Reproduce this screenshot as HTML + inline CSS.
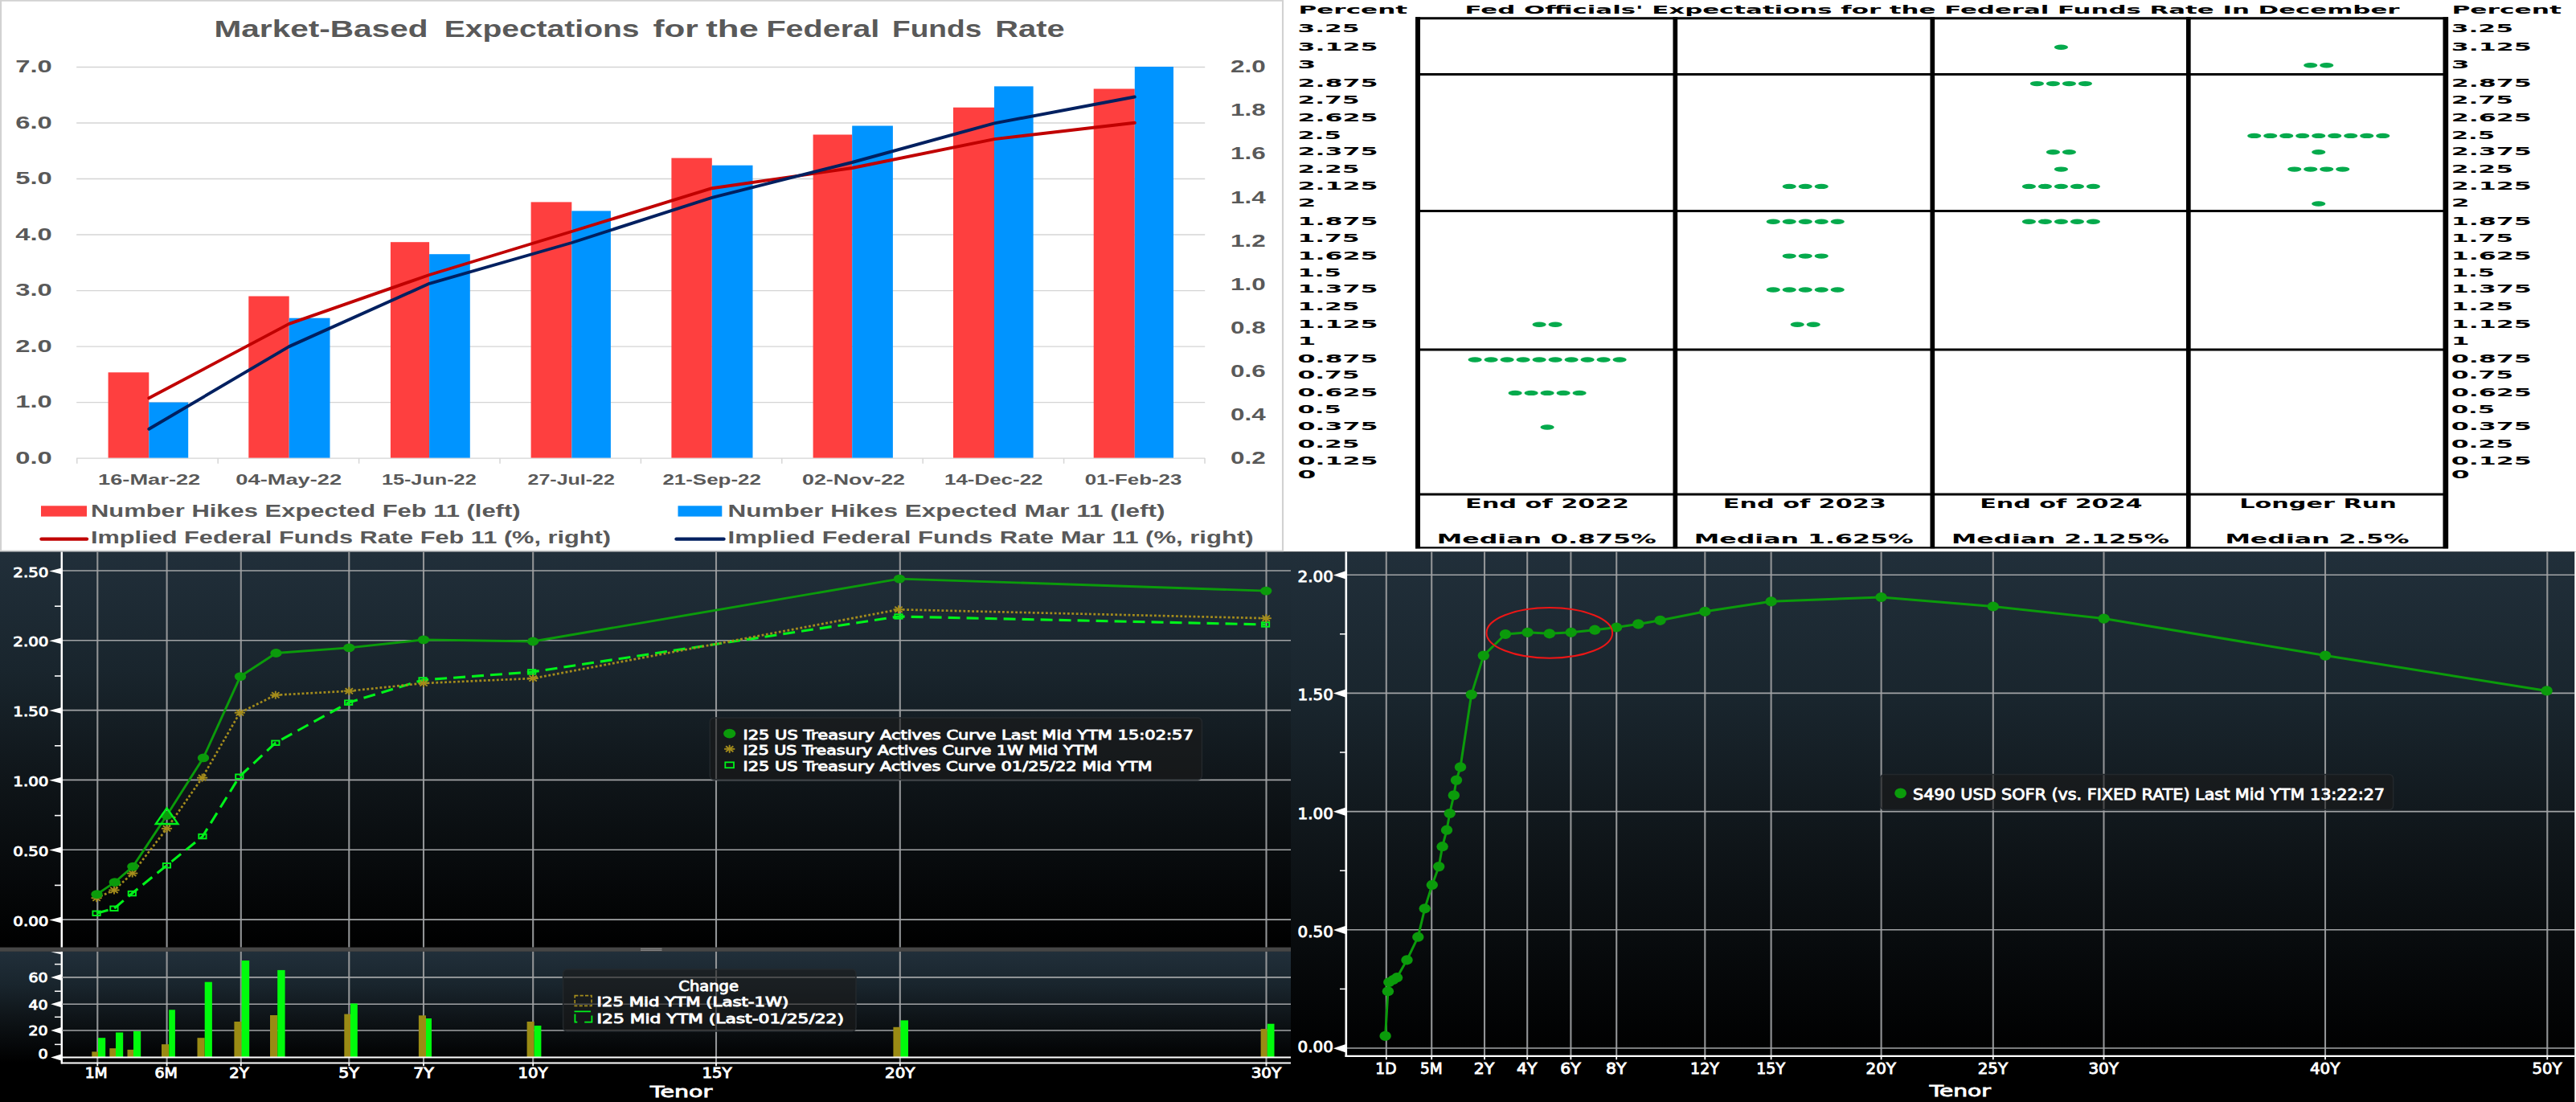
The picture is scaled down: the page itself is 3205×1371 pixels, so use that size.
<!DOCTYPE html>
<html lang="en"><head><meta charset="utf-8"><title>Rates dashboard</title>
<style>html,body{margin:0;padding:0;background:#000;overflow:hidden}svg{display:block}.lib{font-family:"Liberation Sans", sans-serif}.djv{font-family:"DejaVu Sans", "Liberation Sans", sans-serif}.b{font-weight:bold}text{white-space:pre}</style></head><body>
<svg width="3205" height="1371" viewBox="0 0 3205 1371" role="img" aria-label="Rates dashboard: market-based fed funds expectations, Fed dot plot, Treasury curve, SOFR curve">
<defs><linearGradient id="gC1" x1="0" y1="0" x2="0" y2="1"><stop offset="0" stop-color="#212f3a"/><stop offset="0.3" stop-color="#19252d"/><stop offset="0.58" stop-color="#0f1519"/><stop offset="1" stop-color="#000"/></linearGradient><linearGradient id="gC2" x1="0" y1="0" x2="0" y2="1"><stop offset="0" stop-color="#212f3a"/><stop offset="0.3" stop-color="#19252d"/><stop offset="0.58" stop-color="#0f1519"/><stop offset="1" stop-color="#000"/></linearGradient><linearGradient id="gD" x1="0" y1="0" x2="0" y2="1"><stop offset="0" stop-color="#212f3a"/><stop offset="0.3" stop-color="#19252d"/><stop offset="0.58" stop-color="#0f1519"/><stop offset="1" stop-color="#000"/></linearGradient></defs>
<rect x="0.0" y="0.0" width="3205.0" height="1371.0" fill="#000" />
<rect x="0.0" y="0.0" width="1598.0" height="686.5" fill="#fff" />
<path d="M1.05 0V686 M0 0.7H1597 M1596 0V686 M0 685.6H1597" fill="none" stroke="#d2d2d2" stroke-width="2.1"/>
<text class="lib b" x="266.5" y="46.3" font-size="29" fill="#595959" textLength="266.0" lengthAdjust="spacingAndGlyphs">Market-Based</text>
<text class="lib b" x="552.7" y="46.3" font-size="29" fill="#595959" textLength="242.8" lengthAdjust="spacingAndGlyphs">Expectations</text>
<text class="lib b" x="812.5" y="46.3" font-size="29" fill="#595959" textLength="56.3" lengthAdjust="spacingAndGlyphs">for</text>
<text class="lib b" x="878.3" y="46.3" font-size="29" fill="#595959" textLength="65.6" lengthAdjust="spacingAndGlyphs">the</text>
<text class="lib b" x="953.4" y="46.3" font-size="29" fill="#595959" textLength="140.8" lengthAdjust="spacingAndGlyphs">Federal</text>
<text class="lib b" x="1110.0" y="46.3" font-size="29" fill="#595959" textLength="111.3" lengthAdjust="spacingAndGlyphs">Funds</text>
<text class="lib b" x="1238.3" y="46.3" font-size="29" fill="#595959" textLength="86.3" lengthAdjust="spacingAndGlyphs">Rate</text>
<line x1="95.2" y1="83.5" x2="1499.2" y2="83.5" stroke="#d4d4d4" stroke-width="1.3" />
<text class="lib b" x="19.2" y="90.3" font-size="21.8" fill="#595959" textLength="45.6" lengthAdjust="spacingAndGlyphs">7.0</text>
<line x1="95.2" y1="153.0" x2="1499.2" y2="153.0" stroke="#d4d4d4" stroke-width="1.3" />
<text class="lib b" x="19.2" y="159.8" font-size="21.8" fill="#595959" textLength="45.6" lengthAdjust="spacingAndGlyphs">6.0</text>
<line x1="95.2" y1="222.5" x2="1499.2" y2="222.5" stroke="#d4d4d4" stroke-width="1.3" />
<text class="lib b" x="19.2" y="229.3" font-size="21.8" fill="#595959" textLength="45.6" lengthAdjust="spacingAndGlyphs">5.0</text>
<line x1="95.2" y1="292.0" x2="1499.2" y2="292.0" stroke="#d4d4d4" stroke-width="1.3" />
<text class="lib b" x="19.2" y="298.8" font-size="21.8" fill="#595959" textLength="45.6" lengthAdjust="spacingAndGlyphs">4.0</text>
<line x1="95.2" y1="361.6" x2="1499.2" y2="361.6" stroke="#d4d4d4" stroke-width="1.3" />
<text class="lib b" x="19.2" y="368.4" font-size="21.8" fill="#595959" textLength="45.6" lengthAdjust="spacingAndGlyphs">3.0</text>
<line x1="95.2" y1="431.1" x2="1499.2" y2="431.1" stroke="#d4d4d4" stroke-width="1.3" />
<text class="lib b" x="19.2" y="437.9" font-size="21.8" fill="#595959" textLength="45.6" lengthAdjust="spacingAndGlyphs">2.0</text>
<line x1="95.2" y1="500.6" x2="1499.2" y2="500.6" stroke="#d4d4d4" stroke-width="1.3" />
<text class="lib b" x="19.2" y="507.4" font-size="21.8" fill="#595959" textLength="45.6" lengthAdjust="spacingAndGlyphs">1.0</text>
<line x1="95.2" y1="570.1" x2="1499.2" y2="570.1" stroke="#d4d4d4" stroke-width="1.3" />
<text class="lib b" x="19.2" y="576.9" font-size="21.8" fill="#595959" textLength="45.6" lengthAdjust="spacingAndGlyphs">0.0</text>
<text class="lib b" x="1531.0" y="90.3" font-size="21.8" fill="#595959" textLength="43.6" lengthAdjust="spacingAndGlyphs">2.0</text>
<text class="lib b" x="1531.0" y="144.4" font-size="21.8" fill="#595959" textLength="43.6" lengthAdjust="spacingAndGlyphs">1.8</text>
<text class="lib b" x="1531.0" y="198.4" font-size="21.8" fill="#595959" textLength="43.6" lengthAdjust="spacingAndGlyphs">1.6</text>
<text class="lib b" x="1531.0" y="252.5" font-size="21.8" fill="#595959" textLength="43.6" lengthAdjust="spacingAndGlyphs">1.4</text>
<text class="lib b" x="1531.0" y="306.6" font-size="21.8" fill="#595959" textLength="43.6" lengthAdjust="spacingAndGlyphs">1.2</text>
<text class="lib b" x="1531.0" y="360.6" font-size="21.8" fill="#595959" textLength="43.6" lengthAdjust="spacingAndGlyphs">1.0</text>
<text class="lib b" x="1531.0" y="414.7" font-size="21.8" fill="#595959" textLength="43.6" lengthAdjust="spacingAndGlyphs">0.8</text>
<text class="lib b" x="1531.0" y="468.8" font-size="21.8" fill="#595959" textLength="43.6" lengthAdjust="spacingAndGlyphs">0.6</text>
<text class="lib b" x="1531.0" y="522.8" font-size="21.8" fill="#595959" textLength="43.6" lengthAdjust="spacingAndGlyphs">0.4</text>
<text class="lib b" x="1531.0" y="576.9" font-size="21.8" fill="#595959" textLength="43.6" lengthAdjust="spacingAndGlyphs">0.2</text>
<line x1="95.8" y1="570.1" x2="95.8" y2="576.7" stroke="#d6d6d6" stroke-width="1.5" />
<line x1="271.2" y1="570.1" x2="271.2" y2="576.7" stroke="#d6d6d6" stroke-width="1.5" />
<line x1="446.6" y1="570.1" x2="446.6" y2="576.7" stroke="#d6d6d6" stroke-width="1.5" />
<line x1="622.0" y1="570.1" x2="622.0" y2="576.7" stroke="#d6d6d6" stroke-width="1.5" />
<line x1="797.4" y1="570.1" x2="797.4" y2="576.7" stroke="#d6d6d6" stroke-width="1.5" />
<line x1="972.8" y1="570.1" x2="972.8" y2="576.7" stroke="#d6d6d6" stroke-width="1.5" />
<line x1="1148.2" y1="570.1" x2="1148.2" y2="576.7" stroke="#d6d6d6" stroke-width="1.5" />
<line x1="1323.6" y1="570.1" x2="1323.6" y2="576.7" stroke="#d6d6d6" stroke-width="1.5" />
<line x1="1499.0" y1="570.1" x2="1499.0" y2="576.7" stroke="#d6d6d6" stroke-width="1.5" />
<rect x="134.6" y="463.3" width="50.7" height="106.3" fill="#fe3f3f" />
<rect x="185.3" y="500.6" width="48.9" height="69.0" fill="#0094ff" />
<rect x="309.3" y="368.5" width="50.4" height="201.1" fill="#fe3f3f" />
<rect x="359.7" y="395.7" width="50.8" height="173.9" fill="#0094ff" />
<rect x="485.9" y="301.2" width="48.2" height="268.4" fill="#fe3f3f" />
<rect x="534.1" y="316.2" width="50.7" height="253.4" fill="#0094ff" />
<rect x="660.6" y="251.4" width="50.7" height="318.2" fill="#fe3f3f" />
<rect x="711.3" y="262.4" width="48.6" height="307.2" fill="#0094ff" />
<rect x="835.4" y="196.6" width="50.4" height="373.0" fill="#fe3f3f" />
<rect x="885.8" y="205.7" width="50.7" height="363.9" fill="#0094ff" />
<rect x="1011.6" y="167.5" width="48.6" height="402.1" fill="#fe3f3f" />
<rect x="1060.2" y="156.5" width="50.7" height="413.1" fill="#0094ff" />
<rect x="1186.0" y="133.7" width="51.0" height="435.9" fill="#fe3f3f" />
<rect x="1237.0" y="107.4" width="48.6" height="462.2" fill="#0094ff" />
<rect x="1360.7" y="110.5" width="51.1" height="459.1" fill="#fe3f3f" />
<rect x="1411.8" y="83.0" width="48.2" height="486.6" fill="#0094ff" />
<polyline points="185.3,495.3 359.7,402.9 534.1,342.0 711.3,288.0 885.8,234.2 1060.2,209.0 1237.0,173.1 1411.8,152.8" fill="none" stroke="#c00000" stroke-width="3.9" stroke-linecap="round" stroke-linejoin="round"/>
<polyline points="185.3,533.8 359.7,431.1 534.1,352.8 711.3,302.0 885.8,245.8 1060.2,202.0 1237.0,153.4 1411.8,120.5" fill="none" stroke="#002060" stroke-width="3.9" stroke-linecap="round" stroke-linejoin="round"/>
<text class="lib b" x="122.0" y="603.3" font-size="17.5" fill="#595959" textLength="127.3" lengthAdjust="spacingAndGlyphs">16-Mar-22</text>
<text class="lib b" x="293.3" y="603.3" font-size="17.5" fill="#595959" textLength="131.9" lengthAdjust="spacingAndGlyphs">04-May-22</text>
<text class="lib b" x="474.9" y="603.3" font-size="17.5" fill="#595959" textLength="117.8" lengthAdjust="spacingAndGlyphs">15-Jun-22</text>
<text class="lib b" x="656.5" y="603.3" font-size="17.5" fill="#595959" textLength="108.4" lengthAdjust="spacingAndGlyphs">27-Jul-22</text>
<text class="lib b" x="824.4" y="603.3" font-size="17.5" fill="#595959" textLength="122.5" lengthAdjust="spacingAndGlyphs">21-Sep-22</text>
<text class="lib b" x="998.0" y="603.3" font-size="17.5" fill="#595959" textLength="128.0" lengthAdjust="spacingAndGlyphs">02-Nov-22</text>
<text class="lib b" x="1175.0" y="603.3" font-size="17.5" fill="#595959" textLength="122.5" lengthAdjust="spacingAndGlyphs">14-Dec-22</text>
<text class="lib b" x="1349.7" y="603.3" font-size="17.5" fill="#595959" textLength="120.7" lengthAdjust="spacingAndGlyphs">01-Feb-23</text>
<rect x="51.0" y="629.3" width="57.0" height="13.3" fill="#fe3f3f" />
<text class="lib b" x="113.0" y="642.6" font-size="21.5" fill="#595959" textLength="534.5" lengthAdjust="spacingAndGlyphs">Number Hikes Expected Feb 11 (left)</text>
<line x1="51.5" y1="670.6" x2="108.0" y2="670.6" stroke="#c00000" stroke-width="4.4" stroke-linecap="round"/>
<text class="lib b" x="113.0" y="676.2" font-size="21.5" fill="#595959" textLength="647.0" lengthAdjust="spacingAndGlyphs">Implied Federal Funds Rate Feb 11 (%, right)</text>
<rect x="843.5" y="629.3" width="54.8" height="13.3" fill="#0094ff" />
<text class="lib b" x="905.5" y="642.6" font-size="21.5" fill="#595959" textLength="543.9" lengthAdjust="spacingAndGlyphs">Number Hikes Expected Mar 11 (left)</text>
<line x1="841.5" y1="670.6" x2="900.5" y2="670.6" stroke="#002060" stroke-width="4.4" stroke-linecap="round"/>
<text class="lib b" x="905.5" y="676.2" font-size="21.5" fill="#595959" textLength="654.1" lengthAdjust="spacingAndGlyphs">Implied Federal Funds Rate Mar 11 (%, right)</text>
<rect x="1598.0" y="0.0" width="1607.0" height="686.5" fill="#fff" />
<text class="djv b" x="1615.5" y="17.3" font-size="14.5" fill="#000" textLength="135.7" lengthAdjust="spacingAndGlyphs">Percent</text>
<text class="djv b" x="3050.4" y="17.3" font-size="14.5" fill="#000" textLength="136.6" lengthAdjust="spacingAndGlyphs">Percent</text>
<text class="djv b" x="1822.5" y="17.3" font-size="14.5" fill="#000" textLength="1163.0" lengthAdjust="spacingAndGlyphs">Fed Officials' Expectations for the Federal Funds Rate In December</text>
<text class="djv b" x="1614.4" y="40.1" font-size="14.3" fill="#000" textLength="77.3" lengthAdjust="spacingAndGlyphs">3.25</text>
<text class="djv b" x="3049.7" y="40.1" font-size="14.3" fill="#000" textLength="77.3" lengthAdjust="spacingAndGlyphs">3.25</text>
<text class="djv b" x="1614.4" y="62.6" font-size="14.3" fill="#000" textLength="100.1" lengthAdjust="spacingAndGlyphs">3.125</text>
<text class="djv b" x="3049.7" y="62.6" font-size="14.3" fill="#000" textLength="100.1" lengthAdjust="spacingAndGlyphs">3.125</text>
<text class="djv b" x="1614.4" y="85.2" font-size="14.3" fill="#000" textLength="22.8" lengthAdjust="spacingAndGlyphs">3</text>
<text class="djv b" x="3049.7" y="85.2" font-size="14.3" fill="#000" textLength="22.8" lengthAdjust="spacingAndGlyphs">3</text>
<text class="djv b" x="1614.4" y="108.0" font-size="14.3" fill="#000" textLength="100.1" lengthAdjust="spacingAndGlyphs">2.875</text>
<text class="djv b" x="3049.7" y="108.0" font-size="14.3" fill="#000" textLength="100.1" lengthAdjust="spacingAndGlyphs">2.875</text>
<text class="djv b" x="1614.4" y="129.3" font-size="14.3" fill="#000" textLength="77.3" lengthAdjust="spacingAndGlyphs">2.75</text>
<text class="djv b" x="3049.7" y="129.3" font-size="14.3" fill="#000" textLength="77.3" lengthAdjust="spacingAndGlyphs">2.75</text>
<text class="djv b" x="1614.4" y="151.2" font-size="14.3" fill="#000" textLength="100.1" lengthAdjust="spacingAndGlyphs">2.625</text>
<text class="djv b" x="3049.7" y="151.2" font-size="14.3" fill="#000" textLength="100.1" lengthAdjust="spacingAndGlyphs">2.625</text>
<text class="djv b" x="1614.4" y="172.8" font-size="14.3" fill="#000" textLength="54.5" lengthAdjust="spacingAndGlyphs">2.5</text>
<text class="djv b" x="3049.7" y="172.8" font-size="14.3" fill="#000" textLength="54.5" lengthAdjust="spacingAndGlyphs">2.5</text>
<text class="djv b" x="1614.4" y="193.2" font-size="14.3" fill="#000" textLength="100.1" lengthAdjust="spacingAndGlyphs">2.375</text>
<text class="djv b" x="3049.7" y="193.2" font-size="14.3" fill="#000" textLength="100.1" lengthAdjust="spacingAndGlyphs">2.375</text>
<text class="djv b" x="1614.4" y="214.5" font-size="14.3" fill="#000" textLength="77.3" lengthAdjust="spacingAndGlyphs">2.25</text>
<text class="djv b" x="3049.7" y="214.5" font-size="14.3" fill="#000" textLength="77.3" lengthAdjust="spacingAndGlyphs">2.25</text>
<text class="djv b" x="1614.4" y="235.8" font-size="14.3" fill="#000" textLength="100.1" lengthAdjust="spacingAndGlyphs">2.125</text>
<text class="djv b" x="3049.7" y="235.8" font-size="14.3" fill="#000" textLength="100.1" lengthAdjust="spacingAndGlyphs">2.125</text>
<text class="djv b" x="1614.4" y="257.4" font-size="14.3" fill="#000" textLength="22.8" lengthAdjust="spacingAndGlyphs">2</text>
<text class="djv b" x="3049.7" y="257.4" font-size="14.3" fill="#000" textLength="22.8" lengthAdjust="spacingAndGlyphs">2</text>
<text class="djv b" x="1614.4" y="279.6" font-size="14.3" fill="#000" textLength="100.1" lengthAdjust="spacingAndGlyphs">1.875</text>
<text class="djv b" x="3049.7" y="279.6" font-size="14.3" fill="#000" textLength="100.1" lengthAdjust="spacingAndGlyphs">1.875</text>
<text class="djv b" x="1614.4" y="301.2" font-size="14.3" fill="#000" textLength="77.3" lengthAdjust="spacingAndGlyphs">1.75</text>
<text class="djv b" x="3049.7" y="301.2" font-size="14.3" fill="#000" textLength="77.3" lengthAdjust="spacingAndGlyphs">1.75</text>
<text class="djv b" x="1614.4" y="322.5" font-size="14.3" fill="#000" textLength="100.1" lengthAdjust="spacingAndGlyphs">1.625</text>
<text class="djv b" x="3049.7" y="322.5" font-size="14.3" fill="#000" textLength="100.1" lengthAdjust="spacingAndGlyphs">1.625</text>
<text class="djv b" x="1614.4" y="343.5" font-size="14.3" fill="#000" textLength="54.5" lengthAdjust="spacingAndGlyphs">1.5</text>
<text class="djv b" x="3049.7" y="343.5" font-size="14.3" fill="#000" textLength="54.5" lengthAdjust="spacingAndGlyphs">1.5</text>
<text class="djv b" x="1614.4" y="364.4" font-size="14.3" fill="#000" textLength="100.1" lengthAdjust="spacingAndGlyphs">1.375</text>
<text class="djv b" x="3049.7" y="364.4" font-size="14.3" fill="#000" textLength="100.1" lengthAdjust="spacingAndGlyphs">1.375</text>
<text class="djv b" x="1614.4" y="385.7" font-size="14.3" fill="#000" textLength="77.3" lengthAdjust="spacingAndGlyphs">1.25</text>
<text class="djv b" x="3049.7" y="385.7" font-size="14.3" fill="#000" textLength="77.3" lengthAdjust="spacingAndGlyphs">1.25</text>
<text class="djv b" x="1614.4" y="407.6" font-size="14.3" fill="#000" textLength="100.1" lengthAdjust="spacingAndGlyphs">1.125</text>
<text class="djv b" x="3049.7" y="407.6" font-size="14.3" fill="#000" textLength="100.1" lengthAdjust="spacingAndGlyphs">1.125</text>
<text class="djv b" x="1614.4" y="428.6" font-size="14.3" fill="#000" textLength="22.8" lengthAdjust="spacingAndGlyphs">1</text>
<text class="djv b" x="3049.7" y="428.6" font-size="14.3" fill="#000" textLength="22.8" lengthAdjust="spacingAndGlyphs">1</text>
<text class="djv b" x="1614.4" y="451.4" font-size="14.3" fill="#000" textLength="100.1" lengthAdjust="spacingAndGlyphs">0.875</text>
<text class="djv b" x="3049.7" y="451.4" font-size="14.3" fill="#000" textLength="100.1" lengthAdjust="spacingAndGlyphs">0.875</text>
<text class="djv b" x="1614.4" y="471.2" font-size="14.3" fill="#000" textLength="77.3" lengthAdjust="spacingAndGlyphs">0.75</text>
<text class="djv b" x="3049.7" y="471.2" font-size="14.3" fill="#000" textLength="77.3" lengthAdjust="spacingAndGlyphs">0.75</text>
<text class="djv b" x="1614.4" y="492.8" font-size="14.3" fill="#000" textLength="100.1" lengthAdjust="spacingAndGlyphs">0.625</text>
<text class="djv b" x="3049.7" y="492.8" font-size="14.3" fill="#000" textLength="100.1" lengthAdjust="spacingAndGlyphs">0.625</text>
<text class="djv b" x="1614.4" y="514.0" font-size="14.3" fill="#000" textLength="54.5" lengthAdjust="spacingAndGlyphs">0.5</text>
<text class="djv b" x="3049.7" y="514.0" font-size="14.3" fill="#000" textLength="54.5" lengthAdjust="spacingAndGlyphs">0.5</text>
<text class="djv b" x="1614.4" y="535.4" font-size="14.3" fill="#000" textLength="100.1" lengthAdjust="spacingAndGlyphs">0.375</text>
<text class="djv b" x="3049.7" y="535.4" font-size="14.3" fill="#000" textLength="100.1" lengthAdjust="spacingAndGlyphs">0.375</text>
<text class="djv b" x="1614.4" y="557.3" font-size="14.3" fill="#000" textLength="77.3" lengthAdjust="spacingAndGlyphs">0.25</text>
<text class="djv b" x="3049.7" y="557.3" font-size="14.3" fill="#000" textLength="77.3" lengthAdjust="spacingAndGlyphs">0.25</text>
<text class="djv b" x="1614.4" y="578.3" font-size="14.3" fill="#000" textLength="100.1" lengthAdjust="spacingAndGlyphs">0.125</text>
<text class="djv b" x="3049.7" y="578.3" font-size="14.3" fill="#000" textLength="100.1" lengthAdjust="spacingAndGlyphs">0.125</text>
<text class="djv b" x="1614.4" y="594.5" font-size="14.3" fill="#000" textLength="22.8" lengthAdjust="spacingAndGlyphs">0</text>
<text class="djv b" x="3049.7" y="594.5" font-size="14.3" fill="#000" textLength="22.8" lengthAdjust="spacingAndGlyphs">0</text>
<line x1="1764.0" y1="21.2" x2="1764.0" y2="682.3" stroke="#000" stroke-width="6.0" />
<line x1="2084.3" y1="21.2" x2="2084.3" y2="682.3" stroke="#000" stroke-width="5.7" />
<line x1="2404.3" y1="21.2" x2="2404.3" y2="682.3" stroke="#000" stroke-width="5.7" />
<line x1="2722.8" y1="21.2" x2="2722.8" y2="682.3" stroke="#000" stroke-width="5.7" />
<line x1="3042.8" y1="21.2" x2="3042.8" y2="682.3" stroke="#000" stroke-width="6.7" />
<line x1="1761.0" y1="22.7" x2="3046.0" y2="22.7" stroke="#000" stroke-width="3.0" />
<line x1="1761.0" y1="92.4" x2="3046.0" y2="92.4" stroke="#000" stroke-width="3.0" />
<line x1="1761.0" y1="262.4" x2="3046.0" y2="262.4" stroke="#000" stroke-width="3.0" />
<line x1="1761.0" y1="434.9" x2="3046.0" y2="434.9" stroke="#000" stroke-width="3.0" />
<line x1="1761.0" y1="614.9" x2="3046.0" y2="614.9" stroke="#000" stroke-width="3.0" />
<line x1="1761.0" y1="681.3" x2="3046.0" y2="681.3" stroke="#000" stroke-width="2.2" />
<ellipse cx="1915.1" cy="403.7" rx="8.6" ry="3.2" fill="#05aa4c"/>
<ellipse cx="1935.1" cy="403.7" rx="8.6" ry="3.2" fill="#05aa4c"/>
<ellipse cx="1835.1" cy="447.5" rx="8.6" ry="3.2" fill="#05aa4c"/>
<ellipse cx="1855.1" cy="447.5" rx="8.6" ry="3.2" fill="#05aa4c"/>
<ellipse cx="1875.1" cy="447.5" rx="8.6" ry="3.2" fill="#05aa4c"/>
<ellipse cx="1895.1" cy="447.5" rx="8.6" ry="3.2" fill="#05aa4c"/>
<ellipse cx="1915.1" cy="447.5" rx="8.6" ry="3.2" fill="#05aa4c"/>
<ellipse cx="1935.1" cy="447.5" rx="8.6" ry="3.2" fill="#05aa4c"/>
<ellipse cx="1955.1" cy="447.5" rx="8.6" ry="3.2" fill="#05aa4c"/>
<ellipse cx="1975.1" cy="447.5" rx="8.6" ry="3.2" fill="#05aa4c"/>
<ellipse cx="1995.1" cy="447.5" rx="8.6" ry="3.2" fill="#05aa4c"/>
<ellipse cx="2015.1" cy="447.5" rx="8.6" ry="3.2" fill="#05aa4c"/>
<ellipse cx="1885.1" cy="488.9" rx="8.6" ry="3.2" fill="#05aa4c"/>
<ellipse cx="1905.1" cy="488.9" rx="8.6" ry="3.2" fill="#05aa4c"/>
<ellipse cx="1925.1" cy="488.9" rx="8.6" ry="3.2" fill="#05aa4c"/>
<ellipse cx="1945.1" cy="488.9" rx="8.6" ry="3.2" fill="#05aa4c"/>
<ellipse cx="1965.1" cy="488.9" rx="8.6" ry="3.2" fill="#05aa4c"/>
<ellipse cx="1925.1" cy="531.5" rx="8.6" ry="3.2" fill="#05aa4c"/>
<ellipse cx="2226.2" cy="231.9" rx="8.6" ry="3.2" fill="#05aa4c"/>
<ellipse cx="2246.2" cy="231.9" rx="8.6" ry="3.2" fill="#05aa4c"/>
<ellipse cx="2266.2" cy="231.9" rx="8.6" ry="3.2" fill="#05aa4c"/>
<ellipse cx="2206.2" cy="275.7" rx="8.6" ry="3.2" fill="#05aa4c"/>
<ellipse cx="2226.2" cy="275.7" rx="8.6" ry="3.2" fill="#05aa4c"/>
<ellipse cx="2246.2" cy="275.7" rx="8.6" ry="3.2" fill="#05aa4c"/>
<ellipse cx="2266.2" cy="275.7" rx="8.6" ry="3.2" fill="#05aa4c"/>
<ellipse cx="2286.2" cy="275.7" rx="8.6" ry="3.2" fill="#05aa4c"/>
<ellipse cx="2226.2" cy="318.6" rx="8.6" ry="3.2" fill="#05aa4c"/>
<ellipse cx="2246.2" cy="318.6" rx="8.6" ry="3.2" fill="#05aa4c"/>
<ellipse cx="2266.2" cy="318.6" rx="8.6" ry="3.2" fill="#05aa4c"/>
<ellipse cx="2206.2" cy="360.5" rx="8.6" ry="3.2" fill="#05aa4c"/>
<ellipse cx="2226.2" cy="360.5" rx="8.6" ry="3.2" fill="#05aa4c"/>
<ellipse cx="2246.2" cy="360.5" rx="8.6" ry="3.2" fill="#05aa4c"/>
<ellipse cx="2266.2" cy="360.5" rx="8.6" ry="3.2" fill="#05aa4c"/>
<ellipse cx="2286.2" cy="360.5" rx="8.6" ry="3.2" fill="#05aa4c"/>
<ellipse cx="2236.2" cy="403.7" rx="8.6" ry="3.2" fill="#05aa4c"/>
<ellipse cx="2256.2" cy="403.7" rx="8.6" ry="3.2" fill="#05aa4c"/>
<ellipse cx="2564.4" cy="58.7" rx="8.6" ry="3.2" fill="#05aa4c"/>
<ellipse cx="2534.4" cy="104.1" rx="8.6" ry="3.2" fill="#05aa4c"/>
<ellipse cx="2554.4" cy="104.1" rx="8.6" ry="3.2" fill="#05aa4c"/>
<ellipse cx="2574.4" cy="104.1" rx="8.6" ry="3.2" fill="#05aa4c"/>
<ellipse cx="2594.4" cy="104.1" rx="8.6" ry="3.2" fill="#05aa4c"/>
<ellipse cx="2554.4" cy="189.3" rx="8.6" ry="3.2" fill="#05aa4c"/>
<ellipse cx="2574.4" cy="189.3" rx="8.6" ry="3.2" fill="#05aa4c"/>
<ellipse cx="2564.4" cy="210.6" rx="8.6" ry="3.2" fill="#05aa4c"/>
<ellipse cx="2524.4" cy="231.9" rx="8.6" ry="3.2" fill="#05aa4c"/>
<ellipse cx="2544.4" cy="231.9" rx="8.6" ry="3.2" fill="#05aa4c"/>
<ellipse cx="2564.4" cy="231.9" rx="8.6" ry="3.2" fill="#05aa4c"/>
<ellipse cx="2584.4" cy="231.9" rx="8.6" ry="3.2" fill="#05aa4c"/>
<ellipse cx="2604.4" cy="231.9" rx="8.6" ry="3.2" fill="#05aa4c"/>
<ellipse cx="2524.4" cy="275.7" rx="8.6" ry="3.2" fill="#05aa4c"/>
<ellipse cx="2544.4" cy="275.7" rx="8.6" ry="3.2" fill="#05aa4c"/>
<ellipse cx="2564.4" cy="275.7" rx="8.6" ry="3.2" fill="#05aa4c"/>
<ellipse cx="2584.4" cy="275.7" rx="8.6" ry="3.2" fill="#05aa4c"/>
<ellipse cx="2604.4" cy="275.7" rx="8.6" ry="3.2" fill="#05aa4c"/>
<ellipse cx="2874.7" cy="81.3" rx="8.6" ry="3.2" fill="#05aa4c"/>
<ellipse cx="2894.7" cy="81.3" rx="8.6" ry="3.2" fill="#05aa4c"/>
<ellipse cx="2804.7" cy="168.9" rx="8.6" ry="3.2" fill="#05aa4c"/>
<ellipse cx="2824.7" cy="168.9" rx="8.6" ry="3.2" fill="#05aa4c"/>
<ellipse cx="2844.7" cy="168.9" rx="8.6" ry="3.2" fill="#05aa4c"/>
<ellipse cx="2864.7" cy="168.9" rx="8.6" ry="3.2" fill="#05aa4c"/>
<ellipse cx="2884.7" cy="168.9" rx="8.6" ry="3.2" fill="#05aa4c"/>
<ellipse cx="2904.7" cy="168.9" rx="8.6" ry="3.2" fill="#05aa4c"/>
<ellipse cx="2924.7" cy="168.9" rx="8.6" ry="3.2" fill="#05aa4c"/>
<ellipse cx="2944.7" cy="168.9" rx="8.6" ry="3.2" fill="#05aa4c"/>
<ellipse cx="2964.7" cy="168.9" rx="8.6" ry="3.2" fill="#05aa4c"/>
<ellipse cx="2884.7" cy="189.3" rx="8.6" ry="3.2" fill="#05aa4c"/>
<ellipse cx="2854.7" cy="210.6" rx="8.6" ry="3.2" fill="#05aa4c"/>
<ellipse cx="2874.7" cy="210.6" rx="8.6" ry="3.2" fill="#05aa4c"/>
<ellipse cx="2894.7" cy="210.6" rx="8.6" ry="3.2" fill="#05aa4c"/>
<ellipse cx="2914.7" cy="210.6" rx="8.6" ry="3.2" fill="#05aa4c"/>
<ellipse cx="2884.7" cy="253.5" rx="8.6" ry="3.2" fill="#05aa4c"/>
<text class="djv b" x="1822.9" y="631.5" font-size="16" fill="#000" textLength="203.9" lengthAdjust="spacingAndGlyphs">End of 2022</text>
<text class="djv b" x="1787.8" y="676.0" font-size="16" fill="#000" textLength="272.8" lengthAdjust="spacingAndGlyphs">Median 0.875%</text>
<text class="djv b" x="2143.8" y="631.5" font-size="16" fill="#000" textLength="203.0" lengthAdjust="spacingAndGlyphs">End of 2023</text>
<text class="djv b" x="2107.8" y="676.0" font-size="16" fill="#000" textLength="272.8" lengthAdjust="spacingAndGlyphs">Median 1.625%</text>
<text class="djv b" x="2463.2" y="631.5" font-size="16" fill="#000" textLength="202.4" lengthAdjust="spacingAndGlyphs">End of 2024</text>
<text class="djv b" x="2428.1" y="676.0" font-size="16" fill="#000" textLength="270.9" lengthAdjust="spacingAndGlyphs">Median 2.125%</text>
<text class="djv b" x="2786.3" y="631.5" font-size="16" fill="#000" textLength="195.5" lengthAdjust="spacingAndGlyphs">Longer Run</text>
<text class="djv b" x="2768.4" y="676.0" font-size="16" fill="#000" textLength="229.0" lengthAdjust="spacingAndGlyphs">Median 2.5%</text>
<rect x="0.0" y="686.5" width="1606.0" height="492.1" fill="url(#gC1)" />
<rect x="0.0" y="1178.6" width="1606.0" height="5.3" fill="#464646" />
<rect x="0.0" y="1183.9" width="1606.0" height="138.5" fill="url(#gC2)" />
<line x1="121.3" y1="686.5" x2="121.3" y2="1178.6" stroke="#929496" stroke-width="2.1" />
<line x1="121.3" y1="1183.9" x2="121.3" y2="1322.4" stroke="#929496" stroke-width="2.1" />
<line x1="121.3" y1="1322.4" x2="121.3" y2="1326.2" stroke="#fff" stroke-width="1.8" />
<line x1="207.6" y1="686.5" x2="207.6" y2="1178.6" stroke="#929496" stroke-width="2.1" />
<line x1="207.6" y1="1183.9" x2="207.6" y2="1322.4" stroke="#929496" stroke-width="2.1" />
<line x1="207.6" y1="1322.4" x2="207.6" y2="1326.2" stroke="#fff" stroke-width="1.8" />
<line x1="299.8" y1="686.5" x2="299.8" y2="1178.6" stroke="#929496" stroke-width="2.1" />
<line x1="299.8" y1="1183.9" x2="299.8" y2="1322.4" stroke="#929496" stroke-width="2.1" />
<line x1="299.8" y1="1322.4" x2="299.8" y2="1326.2" stroke="#fff" stroke-width="1.8" />
<line x1="434.3" y1="686.5" x2="434.3" y2="1178.6" stroke="#929496" stroke-width="2.1" />
<line x1="434.3" y1="1183.9" x2="434.3" y2="1322.4" stroke="#929496" stroke-width="2.1" />
<line x1="434.3" y1="1322.4" x2="434.3" y2="1326.2" stroke="#fff" stroke-width="1.8" />
<line x1="527.0" y1="686.5" x2="527.0" y2="1178.6" stroke="#929496" stroke-width="2.1" />
<line x1="527.0" y1="1183.9" x2="527.0" y2="1322.4" stroke="#929496" stroke-width="2.1" />
<line x1="527.0" y1="1322.4" x2="527.0" y2="1326.2" stroke="#fff" stroke-width="1.8" />
<line x1="663.2" y1="686.5" x2="663.2" y2="1178.6" stroke="#929496" stroke-width="2.1" />
<line x1="663.2" y1="1183.9" x2="663.2" y2="1322.4" stroke="#929496" stroke-width="2.1" />
<line x1="663.2" y1="1322.4" x2="663.2" y2="1326.2" stroke="#fff" stroke-width="1.8" />
<line x1="891.0" y1="686.5" x2="891.0" y2="1178.6" stroke="#929496" stroke-width="2.1" />
<line x1="891.0" y1="1183.9" x2="891.0" y2="1322.4" stroke="#929496" stroke-width="2.1" />
<line x1="891.0" y1="1322.4" x2="891.0" y2="1326.2" stroke="#fff" stroke-width="1.8" />
<line x1="1119.8" y1="686.5" x2="1119.8" y2="1178.6" stroke="#929496" stroke-width="2.1" />
<line x1="1119.8" y1="1183.9" x2="1119.8" y2="1322.4" stroke="#929496" stroke-width="2.1" />
<line x1="1119.8" y1="1322.4" x2="1119.8" y2="1326.2" stroke="#fff" stroke-width="1.8" />
<line x1="1575.5" y1="686.5" x2="1575.5" y2="1178.6" stroke="#929496" stroke-width="2.1" />
<line x1="1575.5" y1="1183.9" x2="1575.5" y2="1322.4" stroke="#929496" stroke-width="2.1" />
<line x1="1575.5" y1="1322.4" x2="1575.5" y2="1326.2" stroke="#fff" stroke-width="1.8" />
<line x1="77.0" y1="710.0" x2="1606.0" y2="710.0" stroke="#a2a4a6" stroke-width="1.6" />
<polygon points="61.3,710.4 77,706.4 77,714.4" fill="#fff"/>
<text class="djv" x="16.3" y="717.6" font-size="16.6" fill="#fff" textLength="44.2" lengthAdjust="spacingAndGlyphs" stroke="#fff" stroke-width="0.9">2.50</text>
<line x1="77.0" y1="796.8" x2="1606.0" y2="796.8" stroke="#a2a4a6" stroke-width="1.6" />
<polygon points="61.3,797.2 77,793.2 77,801.2" fill="#fff"/>
<text class="djv" x="16.3" y="804.4" font-size="16.6" fill="#fff" textLength="44.2" lengthAdjust="spacingAndGlyphs" stroke="#fff" stroke-width="0.9">2.00</text>
<line x1="77.0" y1="883.6" x2="1606.0" y2="883.6" stroke="#a2a4a6" stroke-width="1.6" />
<polygon points="61.3,884.0 77,880.0 77,888.0" fill="#fff"/>
<text class="djv" x="16.3" y="891.2" font-size="16.6" fill="#fff" textLength="44.2" lengthAdjust="spacingAndGlyphs" stroke="#fff" stroke-width="0.9">1.50</text>
<line x1="77.0" y1="970.4" x2="1606.0" y2="970.4" stroke="#a2a4a6" stroke-width="1.6" />
<polygon points="61.3,970.8 77,966.8 77,974.8" fill="#fff"/>
<text class="djv" x="16.3" y="978.0" font-size="16.6" fill="#fff" textLength="44.2" lengthAdjust="spacingAndGlyphs" stroke="#fff" stroke-width="0.9">1.00</text>
<line x1="77.0" y1="1057.2" x2="1606.0" y2="1057.2" stroke="#a2a4a6" stroke-width="1.6" />
<polygon points="61.3,1057.6 77,1053.6 77,1061.6" fill="#fff"/>
<text class="djv" x="16.3" y="1064.8" font-size="16.6" fill="#fff" textLength="44.2" lengthAdjust="spacingAndGlyphs" stroke="#fff" stroke-width="0.9">0.50</text>
<line x1="77.0" y1="1144.1" x2="1606.0" y2="1144.1" stroke="#a2a4a6" stroke-width="1.6" />
<polygon points="61.3,1144.5 77,1140.5 77,1148.5" fill="#fff"/>
<text class="djv" x="16.3" y="1151.7" font-size="16.6" fill="#fff" textLength="44.2" lengthAdjust="spacingAndGlyphs" stroke="#fff" stroke-width="0.9">0.00</text>
<line x1="68.0" y1="754.2" x2="77.0" y2="754.2" stroke="#fff" stroke-width="1.6" />
<line x1="68.0" y1="841.0" x2="77.0" y2="841.0" stroke="#fff" stroke-width="1.6" />
<line x1="68.0" y1="927.8" x2="77.0" y2="927.8" stroke="#fff" stroke-width="1.6" />
<line x1="68.0" y1="1014.6" x2="77.0" y2="1014.6" stroke="#fff" stroke-width="1.6" />
<line x1="68.0" y1="1101.4" x2="77.0" y2="1101.4" stroke="#fff" stroke-width="1.6" />
<line x1="76.8" y1="686.5" x2="76.8" y2="1178.6" stroke="#fff" stroke-width="2.5" />
<line x1="76.8" y1="1183.9" x2="76.8" y2="1323.4" stroke="#fff" stroke-width="2.5" />
<line x1="77.0" y1="1215.9" x2="1606.0" y2="1215.9" stroke="#a2a4a6" stroke-width="1.6" />
<polygon points="63.2,1215.9 77,1211.7 77,1220.1" fill="#fff"/>
<text class="djv" x="35.5" y="1222.2" font-size="16.5" fill="#fff" textLength="24.1" lengthAdjust="spacingAndGlyphs" stroke="#fff" stroke-width="0.9">60</text>
<line x1="77.0" y1="1249.2" x2="1606.0" y2="1249.2" stroke="#a2a4a6" stroke-width="1.6" />
<polygon points="63.2,1249.2 77,1245.0 77,1253.4" fill="#fff"/>
<text class="djv" x="35.5" y="1255.5" font-size="16.5" fill="#fff" textLength="24.1" lengthAdjust="spacingAndGlyphs" stroke="#fff" stroke-width="0.9">40</text>
<line x1="77.0" y1="1282.0" x2="1606.0" y2="1282.0" stroke="#a2a4a6" stroke-width="1.6" />
<polygon points="63.2,1282.0 77,1277.8 77,1286.2" fill="#fff"/>
<text class="djv" x="35.5" y="1288.3" font-size="16.5" fill="#fff" textLength="24.1" lengthAdjust="spacingAndGlyphs" stroke="#fff" stroke-width="0.9">20</text>
<polygon points="63.2,1315.5 77,1311.3 77,1319.7" fill="#fff"/>
<polygon points="63.2,1184.2 77,1184.2 77,1187.6" fill="#fff"/>
<text class="djv" x="47.4" y="1316.8" font-size="16.5" fill="#fff" textLength="12.2" lengthAdjust="spacingAndGlyphs" stroke="#fff" stroke-width="0.9">0</text>
<line x1="68.0" y1="1199.6" x2="77.0" y2="1199.6" stroke="#fff" stroke-width="1.5" />
<line x1="68.0" y1="1233.2" x2="77.0" y2="1233.2" stroke="#fff" stroke-width="1.5" />
<line x1="68.0" y1="1265.3" x2="77.0" y2="1265.3" stroke="#fff" stroke-width="1.5" />
<line x1="68.0" y1="1299.4" x2="77.0" y2="1299.4" stroke="#fff" stroke-width="1.5" />
<rect x="114.3" y="1308.4" width="7.7" height="6.9" fill="#9a8b14" />
<rect x="122.0" y="1291.2" width="9.2" height="24.1" fill="#00fb0c" />
<rect x="136.3" y="1304.2" width="7.7" height="11.1" fill="#9a8b14" />
<rect x="144.0" y="1284.5" width="9.2" height="30.8" fill="#00fb0c" />
<rect x="158.5" y="1305.9" width="7.5" height="9.4" fill="#9a8b14" />
<rect x="166.0" y="1282.9" width="9.2" height="32.4" fill="#00fb0c" />
<rect x="201.0" y="1299.2" width="9.2" height="16.1" fill="#9a8b14" />
<rect x="210.2" y="1256.3" width="7.7" height="59.0" fill="#00fb0c" />
<rect x="245.5" y="1291.2" width="9.2" height="24.1" fill="#9a8b14" />
<rect x="254.7" y="1221.7" width="9.2" height="93.6" fill="#00fb0c" />
<rect x="291.4" y="1271.0" width="9.2" height="44.3" fill="#9a8b14" />
<rect x="300.6" y="1195.0" width="9.6" height="120.3" fill="#00fb0c" />
<rect x="336.0" y="1263.0" width="9.2" height="52.3" fill="#9a8b14" />
<rect x="345.2" y="1206.9" width="9.4" height="108.4" fill="#00fb0c" />
<rect x="428.3" y="1261.6" width="7.7" height="53.7" fill="#9a8b14" />
<rect x="436.0" y="1248.5" width="8.8" height="66.8" fill="#00fb0c" />
<rect x="520.9" y="1263.3" width="9.1" height="52.0" fill="#9a8b14" />
<rect x="530.0" y="1267.0" width="7.0" height="48.3" fill="#00fb0c" />
<rect x="655.6" y="1271.0" width="9.0" height="44.3" fill="#9a8b14" />
<rect x="664.6" y="1276.0" width="8.8" height="39.3" fill="#00fb0c" />
<rect x="1111.4" y="1277.8" width="9.1" height="37.5" fill="#9a8b14" />
<rect x="1120.5" y="1269.4" width="9.5" height="45.9" fill="#00fb0c" />
<rect x="1568.6" y="1280.1" width="8.1" height="35.2" fill="#9a8b14" />
<rect x="1576.7" y="1273.7" width="8.8" height="41.6" fill="#00fb0c" />
<line x1="76.0" y1="1315.5" x2="1606.0" y2="1315.5" stroke="#fff" stroke-width="2.0" />
<line x1="76.0" y1="1322.4" x2="1606.0" y2="1322.4" stroke="#fff" stroke-width="2.0" />
<polyline points="120.1,1136.2 142.0,1130.3 164.3,1111.5 207.5,1076.7 252.0,1040.6 297.9,966.1 342.8,924.2 433.6,874.1 526.0,846.0 661.6,836.0 1118.0,767.0 1574.6,777.0" fill="none" stroke="#00f21a" stroke-width="3.1" stroke-dasharray="15 8"/>
<rect x="115.4" y="1133.5" width="9.3" height="5.5" fill="none" stroke="#00f21a" stroke-width="1.9"/>
<rect x="137.3" y="1127.5" width="9.3" height="5.5" fill="none" stroke="#00f21a" stroke-width="1.9"/>
<rect x="159.7" y="1108.8" width="9.3" height="5.5" fill="none" stroke="#00f21a" stroke-width="1.9"/>
<rect x="202.8" y="1074.0" width="9.3" height="5.5" fill="none" stroke="#00f21a" stroke-width="1.9"/>
<rect x="247.3" y="1037.8" width="9.3" height="5.5" fill="none" stroke="#00f21a" stroke-width="1.9"/>
<rect x="293.2" y="963.4" width="9.3" height="5.5" fill="none" stroke="#00f21a" stroke-width="1.9"/>
<rect x="338.2" y="921.5" width="9.3" height="5.5" fill="none" stroke="#00f21a" stroke-width="1.9"/>
<rect x="429.0" y="871.4" width="9.3" height="5.5" fill="none" stroke="#00f21a" stroke-width="1.9"/>
<rect x="521.4" y="843.2" width="9.3" height="5.5" fill="none" stroke="#00f21a" stroke-width="1.9"/>
<rect x="657.0" y="833.2" width="9.3" height="5.5" fill="none" stroke="#00f21a" stroke-width="1.9"/>
<rect x="1113.3" y="764.2" width="9.3" height="5.5" fill="none" stroke="#00f21a" stroke-width="1.9"/>
<rect x="1569.9" y="774.2" width="9.3" height="5.5" fill="none" stroke="#00f21a" stroke-width="1.9"/>
<polyline points="120.1,1117.2 142.0,1107.4 164.7,1086.5 207.5,1030.8 251.6,967.6 298.4,886.7 342.8,864.7 434.3,859.7 527.0,850.0 663.1,844.0 1118.0,758.3 1575.2,769.2" fill="none" stroke="#a48c1c" stroke-width="2.7" stroke-dasharray="2.8 2.6"/>
<line x1="113.5" y1="1117.2" x2="126.7" y2="1117.2" stroke="#a48c1c" stroke-width="1.9" />
<line x1="115.4" y1="1113.7" x2="124.8" y2="1120.7" stroke="#a48c1c" stroke-width="1.9" />
<line x1="120.1" y1="1112.2" x2="120.1" y2="1122.2" stroke="#a48c1c" stroke-width="1.9" />
<line x1="124.8" y1="1113.7" x2="115.4" y2="1120.7" stroke="#a48c1c" stroke-width="1.9" />
<line x1="135.4" y1="1107.4" x2="148.6" y2="1107.4" stroke="#a48c1c" stroke-width="1.9" />
<line x1="137.3" y1="1103.9" x2="146.7" y2="1110.9" stroke="#a48c1c" stroke-width="1.9" />
<line x1="142.0" y1="1102.4" x2="142.0" y2="1112.4" stroke="#a48c1c" stroke-width="1.9" />
<line x1="146.7" y1="1103.9" x2="137.3" y2="1110.9" stroke="#a48c1c" stroke-width="1.9" />
<line x1="158.1" y1="1086.5" x2="171.3" y2="1086.5" stroke="#a48c1c" stroke-width="1.9" />
<line x1="160.0" y1="1083.0" x2="169.4" y2="1090.0" stroke="#a48c1c" stroke-width="1.9" />
<line x1="164.7" y1="1081.5" x2="164.7" y2="1091.5" stroke="#a48c1c" stroke-width="1.9" />
<line x1="169.4" y1="1083.0" x2="160.0" y2="1090.0" stroke="#a48c1c" stroke-width="1.9" />
<line x1="200.9" y1="1030.8" x2="214.1" y2="1030.8" stroke="#a48c1c" stroke-width="1.9" />
<line x1="202.8" y1="1027.3" x2="212.2" y2="1034.3" stroke="#a48c1c" stroke-width="1.9" />
<line x1="207.5" y1="1025.8" x2="207.5" y2="1035.8" stroke="#a48c1c" stroke-width="1.9" />
<line x1="212.2" y1="1027.3" x2="202.8" y2="1034.3" stroke="#a48c1c" stroke-width="1.9" />
<line x1="245.0" y1="967.6" x2="258.2" y2="967.6" stroke="#a48c1c" stroke-width="1.9" />
<line x1="246.9" y1="964.1" x2="256.3" y2="971.1" stroke="#a48c1c" stroke-width="1.9" />
<line x1="251.6" y1="962.6" x2="251.6" y2="972.6" stroke="#a48c1c" stroke-width="1.9" />
<line x1="256.3" y1="964.1" x2="246.9" y2="971.1" stroke="#a48c1c" stroke-width="1.9" />
<line x1="291.8" y1="886.7" x2="305.0" y2="886.7" stroke="#a48c1c" stroke-width="1.9" />
<line x1="293.7" y1="883.2" x2="303.1" y2="890.2" stroke="#a48c1c" stroke-width="1.9" />
<line x1="298.4" y1="881.7" x2="298.4" y2="891.7" stroke="#a48c1c" stroke-width="1.9" />
<line x1="303.1" y1="883.2" x2="293.7" y2="890.2" stroke="#a48c1c" stroke-width="1.9" />
<line x1="336.2" y1="864.7" x2="349.4" y2="864.7" stroke="#a48c1c" stroke-width="1.9" />
<line x1="338.1" y1="861.2" x2="347.5" y2="868.2" stroke="#a48c1c" stroke-width="1.9" />
<line x1="342.8" y1="859.7" x2="342.8" y2="869.7" stroke="#a48c1c" stroke-width="1.9" />
<line x1="347.5" y1="861.2" x2="338.1" y2="868.2" stroke="#a48c1c" stroke-width="1.9" />
<line x1="427.7" y1="859.7" x2="440.9" y2="859.7" stroke="#a48c1c" stroke-width="1.9" />
<line x1="429.6" y1="856.2" x2="439.0" y2="863.2" stroke="#a48c1c" stroke-width="1.9" />
<line x1="434.3" y1="854.7" x2="434.3" y2="864.7" stroke="#a48c1c" stroke-width="1.9" />
<line x1="439.0" y1="856.2" x2="429.6" y2="863.2" stroke="#a48c1c" stroke-width="1.9" />
<line x1="520.4" y1="850.0" x2="533.6" y2="850.0" stroke="#a48c1c" stroke-width="1.9" />
<line x1="522.3" y1="846.5" x2="531.7" y2="853.5" stroke="#a48c1c" stroke-width="1.9" />
<line x1="527.0" y1="845.0" x2="527.0" y2="855.0" stroke="#a48c1c" stroke-width="1.9" />
<line x1="531.7" y1="846.5" x2="522.3" y2="853.5" stroke="#a48c1c" stroke-width="1.9" />
<line x1="656.5" y1="844.0" x2="669.7" y2="844.0" stroke="#a48c1c" stroke-width="1.9" />
<line x1="658.4" y1="840.5" x2="667.8" y2="847.5" stroke="#a48c1c" stroke-width="1.9" />
<line x1="663.1" y1="839.0" x2="663.1" y2="849.0" stroke="#a48c1c" stroke-width="1.9" />
<line x1="667.8" y1="840.5" x2="658.4" y2="847.5" stroke="#a48c1c" stroke-width="1.9" />
<line x1="1111.4" y1="758.3" x2="1124.6" y2="758.3" stroke="#a48c1c" stroke-width="1.9" />
<line x1="1113.3" y1="754.8" x2="1122.7" y2="761.8" stroke="#a48c1c" stroke-width="1.9" />
<line x1="1118.0" y1="753.3" x2="1118.0" y2="763.3" stroke="#a48c1c" stroke-width="1.9" />
<line x1="1122.7" y1="754.8" x2="1113.3" y2="761.8" stroke="#a48c1c" stroke-width="1.9" />
<line x1="1568.6" y1="769.2" x2="1581.8" y2="769.2" stroke="#a48c1c" stroke-width="1.9" />
<line x1="1570.5" y1="765.7" x2="1579.9" y2="772.7" stroke="#a48c1c" stroke-width="1.9" />
<line x1="1575.2" y1="764.2" x2="1575.2" y2="774.2" stroke="#a48c1c" stroke-width="1.9" />
<line x1="1579.9" y1="765.7" x2="1570.5" y2="772.7" stroke="#a48c1c" stroke-width="1.9" />
<polyline points="120.5,1112.6 142.8,1097.6 165.4,1078.1 207.5,1014.5 253.0,942.9 299.0,841.6 343.5,812.5 434.3,805.9 527.0,795.9 663.1,798.0 1119.0,720.1 1575.2,735.1" fill="none" stroke="#0b9b0b" stroke-width="2.9" />
<ellipse cx="120.5" cy="1112.6" rx="7.2" ry="5.4" fill="#0b9b0b"/>
<ellipse cx="142.8" cy="1097.6" rx="7.2" ry="5.4" fill="#0b9b0b"/>
<ellipse cx="165.4" cy="1078.1" rx="7.2" ry="5.4" fill="#0b9b0b"/>
<ellipse cx="207.5" cy="1014.5" rx="7.2" ry="5.4" fill="#0b9b0b"/>
<ellipse cx="253.0" cy="942.9" rx="7.2" ry="5.4" fill="#0b9b0b"/>
<ellipse cx="299.0" cy="841.6" rx="7.2" ry="5.4" fill="#0b9b0b"/>
<ellipse cx="343.5" cy="812.5" rx="7.2" ry="5.4" fill="#0b9b0b"/>
<ellipse cx="434.3" cy="805.9" rx="7.2" ry="5.4" fill="#0b9b0b"/>
<ellipse cx="527.0" cy="795.9" rx="7.2" ry="5.4" fill="#0b9b0b"/>
<ellipse cx="663.1" cy="798.0" rx="7.2" ry="5.4" fill="#0b9b0b"/>
<ellipse cx="1119.0" cy="720.1" rx="7.2" ry="5.4" fill="#0b9b0b"/>
<ellipse cx="1575.2" cy="735.1" rx="7.2" ry="5.4" fill="#0b9b0b"/>
<polygon points="207.5,1005.4 193.8,1025 221.4,1025" fill="none" stroke="#00f21a" stroke-width="2.4"/>
<rect x="883.3" y="893" width="612.1" height="77" rx="5" fill="#1b1b1a" fill-opacity="0.6" stroke="#23282c" stroke-width="1.5"/>
<ellipse cx="907.7" cy="912.6" rx="7.6" ry="5.8" fill="#0b9b0b"/>
<line x1="901.1" y1="931.8" x2="914.3" y2="931.8" stroke="#a48c1c" stroke-width="1.9" />
<line x1="903.0" y1="928.3" x2="912.4" y2="935.3" stroke="#a48c1c" stroke-width="1.9" />
<line x1="907.7" y1="926.8" x2="907.7" y2="936.8" stroke="#a48c1c" stroke-width="1.9" />
<line x1="912.4" y1="928.3" x2="903.0" y2="935.3" stroke="#a48c1c" stroke-width="1.9" />
<rect x="902.3" y="948.3" width="10.7" height="6.9" fill="none" stroke="#00f21a" stroke-width="1.8"/>
<text class="djv" x="924.5" y="919.5" font-size="16.3" fill="#fff" textLength="560.3" lengthAdjust="spacingAndGlyphs" stroke="#fff" stroke-width="0.9">I25 US Treasury Actives Curve Last Mid YTM 15:02:57</text>
<text class="djv" x="924.5" y="939.3" font-size="16.3" fill="#fff" textLength="441.3" lengthAdjust="spacingAndGlyphs" stroke="#fff" stroke-width="0.9">I25 US Treasury Actives Curve 1W Mid YTM</text>
<text class="djv" x="924.5" y="958.7" font-size="16.3" fill="#fff" textLength="509.2" lengthAdjust="spacingAndGlyphs" stroke="#fff" stroke-width="0.9">I25 US Treasury Actives Curve 01/25/22 Mid YTM</text>
<rect x="700.6" y="1206" width="364.4" height="77" rx="5" fill="#1b1b1a" fill-opacity="0.6" stroke="#23282c" stroke-width="1.5"/>
<text class="djv" x="844.3" y="1233.4" font-size="17.3" fill="#fff" textLength="74.7" lengthAdjust="spacingAndGlyphs" stroke="#fff" stroke-width="0.9">Change</text>
<rect x="715.2" y="1238.6" width="20.8" height="12.8" fill="none" stroke="#a48c1c" stroke-width="1.6" stroke-dasharray="4.2 2.2"/>
<path d="M714.5 1258.3H735 M715.4 1261.6V1271.6H718.3 M727.2 1271.6H736.4V1263.4" fill="none" stroke="#00f21a" stroke-width="1.8"/>
<text class="djv" x="742.6" y="1252.4" font-size="16" fill="#fff" textLength="238.8" lengthAdjust="spacingAndGlyphs" stroke="#fff" stroke-width="0.9">I25 Mid YTM (Last-1W)</text>
<text class="djv" x="742.6" y="1272.6" font-size="16" fill="#fff" textLength="307.4" lengthAdjust="spacingAndGlyphs" stroke="#fff" stroke-width="0.9">I25 Mid YTM (Last-01/25/22)</text>
<line x1="797.0" y1="1180.3" x2="823.5" y2="1180.3" stroke="#8a8a8a" stroke-width="1.2" />
<line x1="797.0" y1="1182.3" x2="823.5" y2="1182.3" stroke="#8a8a8a" stroke-width="1.2" />
<text class="djv" x="105.7" y="1340.8" font-size="17" fill="#fff" textLength="28.0" lengthAdjust="spacingAndGlyphs" stroke="#fff" stroke-width="0.9">1M</text>
<text class="djv" x="192.4" y="1340.8" font-size="17" fill="#fff" textLength="28.4" lengthAdjust="spacingAndGlyphs" stroke="#fff" stroke-width="0.9">6M</text>
<text class="djv" x="285.3" y="1340.8" font-size="17" fill="#fff" textLength="24.4" lengthAdjust="spacingAndGlyphs" stroke="#fff" stroke-width="0.9">2Y</text>
<text class="djv" x="421.2" y="1340.8" font-size="17" fill="#fff" textLength="25.6" lengthAdjust="spacingAndGlyphs" stroke="#fff" stroke-width="0.9">5Y</text>
<text class="djv" x="514.2" y="1340.8" font-size="17" fill="#fff" textLength="25.6" lengthAdjust="spacingAndGlyphs" stroke="#fff" stroke-width="0.9">7Y</text>
<text class="djv" x="644.5" y="1340.8" font-size="17" fill="#fff" textLength="37.0" lengthAdjust="spacingAndGlyphs" stroke="#fff" stroke-width="0.9">10Y</text>
<text class="djv" x="873.4" y="1340.8" font-size="17" fill="#fff" textLength="37.0" lengthAdjust="spacingAndGlyphs" stroke="#fff" stroke-width="0.9">15Y</text>
<text class="djv" x="1101.1" y="1340.8" font-size="17" fill="#fff" textLength="37.4" lengthAdjust="spacingAndGlyphs" stroke="#fff" stroke-width="0.9">20Y</text>
<text class="djv" x="1556.7" y="1340.8" font-size="17" fill="#fff" textLength="37.4" lengthAdjust="spacingAndGlyphs" stroke="#fff" stroke-width="0.9">30Y</text>
<text class="djv" x="809.0" y="1365.3" font-size="20" fill="#fff" textLength="77.1" lengthAdjust="spacingAndGlyphs" stroke="#fff" stroke-width="0.9">Tenor</text>
<rect x="1606.0" y="686.5" width="1597.2" height="628.0" fill="url(#gD)" />
<line x1="1724.8" y1="686.5" x2="1724.8" y2="1313.8" stroke="#929496" stroke-width="2.1" />
<line x1="1724.8" y1="1313.8" x2="1724.8" y2="1318.3" stroke="#fff" stroke-width="1.8" />
<text class="djv" x="1711.3" y="1336.2" font-size="19.5" fill="#fff" textLength="26.2" lengthAdjust="spacingAndGlyphs" stroke="#fff" stroke-width="0.9">1D</text>
<line x1="1781.2" y1="686.5" x2="1781.2" y2="1313.8" stroke="#929496" stroke-width="2.1" />
<line x1="1781.2" y1="1313.8" x2="1781.2" y2="1318.3" stroke="#fff" stroke-width="1.8" />
<text class="djv" x="1767.0" y="1336.2" font-size="19.5" fill="#fff" textLength="27.6" lengthAdjust="spacingAndGlyphs" stroke="#fff" stroke-width="0.9">5M</text>
<line x1="1847.0" y1="686.5" x2="1847.0" y2="1313.8" stroke="#929496" stroke-width="2.1" />
<line x1="1847.0" y1="1313.8" x2="1847.0" y2="1318.3" stroke="#fff" stroke-width="1.8" />
<text class="djv" x="1833.8" y="1336.2" font-size="19.5" fill="#fff" textLength="25.5" lengthAdjust="spacingAndGlyphs" stroke="#fff" stroke-width="0.9">2Y</text>
<line x1="1900.2" y1="686.5" x2="1900.2" y2="1313.8" stroke="#929496" stroke-width="2.1" />
<line x1="1900.2" y1="1313.8" x2="1900.2" y2="1318.3" stroke="#fff" stroke-width="1.8" />
<text class="djv" x="1887.0" y="1336.2" font-size="19.5" fill="#fff" textLength="25.5" lengthAdjust="spacingAndGlyphs" stroke="#fff" stroke-width="0.9">4Y</text>
<line x1="1954.4" y1="686.5" x2="1954.4" y2="1313.8" stroke="#929496" stroke-width="2.1" />
<line x1="1954.4" y1="1313.8" x2="1954.4" y2="1318.3" stroke="#fff" stroke-width="1.8" />
<text class="djv" x="1941.2" y="1336.2" font-size="19.5" fill="#fff" textLength="25.5" lengthAdjust="spacingAndGlyphs" stroke="#fff" stroke-width="0.9">6Y</text>
<line x1="2011.2" y1="686.5" x2="2011.2" y2="1313.8" stroke="#929496" stroke-width="2.1" />
<line x1="2011.2" y1="1313.8" x2="2011.2" y2="1318.3" stroke="#fff" stroke-width="1.8" />
<text class="djv" x="1998.0" y="1336.2" font-size="19.5" fill="#fff" textLength="25.5" lengthAdjust="spacingAndGlyphs" stroke="#fff" stroke-width="0.9">8Y</text>
<line x1="2121.3" y1="686.5" x2="2121.3" y2="1313.8" stroke="#929496" stroke-width="2.1" />
<line x1="2121.3" y1="1313.8" x2="2121.3" y2="1318.3" stroke="#fff" stroke-width="1.8" />
<text class="djv" x="2103.1" y="1336.2" font-size="19.5" fill="#fff" textLength="35.7" lengthAdjust="spacingAndGlyphs" stroke="#fff" stroke-width="0.9">12Y</text>
<line x1="2203.6" y1="686.5" x2="2203.6" y2="1313.8" stroke="#929496" stroke-width="2.1" />
<line x1="2203.6" y1="1313.8" x2="2203.6" y2="1318.3" stroke="#fff" stroke-width="1.8" />
<text class="djv" x="2185.3" y="1336.2" font-size="19.5" fill="#fff" textLength="35.7" lengthAdjust="spacingAndGlyphs" stroke="#fff" stroke-width="0.9">15Y</text>
<line x1="2340.6" y1="686.5" x2="2340.6" y2="1313.8" stroke="#929496" stroke-width="2.1" />
<line x1="2340.6" y1="1313.8" x2="2340.6" y2="1318.3" stroke="#fff" stroke-width="1.8" />
<text class="djv" x="2321.5" y="1336.2" font-size="19.5" fill="#fff" textLength="37.4" lengthAdjust="spacingAndGlyphs" stroke="#fff" stroke-width="0.9">20Y</text>
<line x1="2479.8" y1="686.5" x2="2479.8" y2="1313.8" stroke="#929496" stroke-width="2.1" />
<line x1="2479.8" y1="1313.8" x2="2479.8" y2="1318.3" stroke="#fff" stroke-width="1.8" />
<text class="djv" x="2460.7" y="1336.2" font-size="19.5" fill="#fff" textLength="37.4" lengthAdjust="spacingAndGlyphs" stroke="#fff" stroke-width="0.9">25Y</text>
<line x1="2617.5" y1="686.5" x2="2617.5" y2="1313.8" stroke="#929496" stroke-width="2.1" />
<line x1="2617.5" y1="1313.8" x2="2617.5" y2="1318.3" stroke="#fff" stroke-width="1.8" />
<text class="djv" x="2598.4" y="1336.2" font-size="19.5" fill="#fff" textLength="37.4" lengthAdjust="spacingAndGlyphs" stroke="#fff" stroke-width="0.9">30Y</text>
<line x1="2893.0" y1="686.5" x2="2893.0" y2="1313.8" stroke="#929496" stroke-width="2.1" />
<line x1="2893.0" y1="1313.8" x2="2893.0" y2="1318.3" stroke="#fff" stroke-width="1.8" />
<text class="djv" x="2873.9" y="1336.2" font-size="19.5" fill="#fff" textLength="37.4" lengthAdjust="spacingAndGlyphs" stroke="#fff" stroke-width="0.9">40Y</text>
<line x1="3169.3" y1="686.5" x2="3169.3" y2="1313.8" stroke="#929496" stroke-width="2.1" />
<line x1="3169.3" y1="1313.8" x2="3169.3" y2="1318.3" stroke="#fff" stroke-width="1.8" />
<text class="djv" x="3150.4" y="1336.2" font-size="19.5" fill="#fff" textLength="37.0" lengthAdjust="spacingAndGlyphs" stroke="#fff" stroke-width="0.9">50Y</text>
<line x1="1675.0" y1="715.2" x2="3203.3" y2="715.2" stroke="#a2a4a6" stroke-width="1.6" />
<polygon points="1658.8,715.4 1674.5,710.2 1674.5,720.6" fill="#fff"/>
<text class="djv" x="1614.6" y="724.1" font-size="20" fill="#fff" textLength="44.4" lengthAdjust="spacingAndGlyphs" stroke="#fff" stroke-width="0.9">2.00</text>
<line x1="1667.0" y1="788.8" x2="1675.0" y2="788.8" stroke="#fff" stroke-width="1.5" />
<line x1="1675.0" y1="862.4" x2="3203.3" y2="862.4" stroke="#a2a4a6" stroke-width="1.6" />
<polygon points="1658.8,862.6 1674.5,857.4 1674.5,867.8" fill="#fff"/>
<text class="djv" x="1614.6" y="871.3" font-size="20" fill="#fff" textLength="44.4" lengthAdjust="spacingAndGlyphs" stroke="#fff" stroke-width="0.9">1.50</text>
<line x1="1667.0" y1="936.0" x2="1675.0" y2="936.0" stroke="#fff" stroke-width="1.5" />
<line x1="1675.0" y1="1009.6" x2="3203.3" y2="1009.6" stroke="#a2a4a6" stroke-width="1.6" />
<polygon points="1658.8,1009.8 1674.5,1004.6 1674.5,1015.0" fill="#fff"/>
<text class="djv" x="1614.6" y="1018.5" font-size="20" fill="#fff" textLength="44.4" lengthAdjust="spacingAndGlyphs" stroke="#fff" stroke-width="0.9">1.00</text>
<line x1="1667.0" y1="1083.2" x2="1675.0" y2="1083.2" stroke="#fff" stroke-width="1.5" />
<line x1="1675.0" y1="1156.8" x2="3203.3" y2="1156.8" stroke="#a2a4a6" stroke-width="1.6" />
<polygon points="1658.8,1157.0 1674.5,1151.8 1674.5,1162.2" fill="#fff"/>
<text class="djv" x="1614.6" y="1165.7" font-size="20" fill="#fff" textLength="44.4" lengthAdjust="spacingAndGlyphs" stroke="#fff" stroke-width="0.9">0.50</text>
<line x1="1667.0" y1="1230.4" x2="1675.0" y2="1230.4" stroke="#fff" stroke-width="1.5" />
<line x1="1675.0" y1="1304.0" x2="3203.3" y2="1304.0" stroke="#a2a4a6" stroke-width="1.6" />
<polygon points="1658.8,1304.2 1674.5,1299.0 1674.5,1309.4" fill="#fff"/>
<text class="djv" x="1614.6" y="1309.3" font-size="20" fill="#fff" textLength="44.4" lengthAdjust="spacingAndGlyphs" stroke="#fff" stroke-width="0.9">0.00</text>
<line x1="1674.8" y1="686.5" x2="1674.8" y2="1314.8" stroke="#fff" stroke-width="2.6" />
<line x1="1673.5" y1="1313.8" x2="3203.3" y2="1313.8" stroke="#fff" stroke-width="2.2" />
<rect x="3203.2" y="686.5" width="1.8" height="684.5" fill="#fff" />
<polyline points="1723.6,1288.9 1726.9,1233.3 1728.3,1222.0 1733.5,1219.0 1738.0,1216.2 1750.5,1194.3 1764.3,1165.7 1772.7,1130.3 1781.8,1101.0 1790.2,1078.1 1794.6,1053.2 1800.0,1032.7 1803.7,1012.0 1808.8,989.4 1812.0,970.6 1817.0,954.3 1830.7,864.1 1845.8,815.6 1873.0,789.0 1900.6,786.8 1927.8,788.3 1954.7,786.8 1984.2,783.7 2011.1,780.5 2038.3,776.4 2065.6,771.8 2121.3,760.8 2203.6,748.3 2340.5,743.0 2479.8,754.5 2617.6,769.6 2893.1,815.6 3168.6,859.4" fill="none" stroke="#0b9b0b" stroke-width="3.0" stroke-linejoin="round"/>
<ellipse cx="1723.6" cy="1288.9" rx="7.2" ry="6.1" fill="#0b9b0b"/>
<ellipse cx="1726.9" cy="1233.3" rx="7.2" ry="6.1" fill="#0b9b0b"/>
<ellipse cx="1728.3" cy="1222.0" rx="7.2" ry="6.1" fill="#0b9b0b"/>
<ellipse cx="1733.5" cy="1219.0" rx="7.2" ry="6.1" fill="#0b9b0b"/>
<ellipse cx="1738.0" cy="1216.2" rx="7.2" ry="6.1" fill="#0b9b0b"/>
<ellipse cx="1750.5" cy="1194.3" rx="7.2" ry="6.1" fill="#0b9b0b"/>
<ellipse cx="1764.3" cy="1165.7" rx="7.2" ry="6.1" fill="#0b9b0b"/>
<ellipse cx="1772.7" cy="1130.3" rx="7.2" ry="6.1" fill="#0b9b0b"/>
<ellipse cx="1781.8" cy="1101.0" rx="7.2" ry="6.1" fill="#0b9b0b"/>
<ellipse cx="1790.2" cy="1078.1" rx="7.2" ry="6.1" fill="#0b9b0b"/>
<ellipse cx="1794.6" cy="1053.2" rx="7.2" ry="6.1" fill="#0b9b0b"/>
<ellipse cx="1800.0" cy="1032.7" rx="7.2" ry="6.1" fill="#0b9b0b"/>
<ellipse cx="1803.7" cy="1012.0" rx="7.2" ry="6.1" fill="#0b9b0b"/>
<ellipse cx="1808.8" cy="989.4" rx="7.2" ry="6.1" fill="#0b9b0b"/>
<ellipse cx="1812.0" cy="970.6" rx="7.2" ry="6.1" fill="#0b9b0b"/>
<ellipse cx="1817.0" cy="954.3" rx="7.2" ry="6.1" fill="#0b9b0b"/>
<ellipse cx="1830.7" cy="864.1" rx="7.2" ry="6.1" fill="#0b9b0b"/>
<ellipse cx="1845.8" cy="815.6" rx="7.2" ry="6.1" fill="#0b9b0b"/>
<ellipse cx="1873.0" cy="789.0" rx="7.2" ry="6.1" fill="#0b9b0b"/>
<ellipse cx="1900.6" cy="786.8" rx="7.2" ry="6.1" fill="#0b9b0b"/>
<ellipse cx="1927.8" cy="788.3" rx="7.2" ry="6.1" fill="#0b9b0b"/>
<ellipse cx="1954.7" cy="786.8" rx="7.2" ry="6.1" fill="#0b9b0b"/>
<ellipse cx="1984.2" cy="783.7" rx="7.2" ry="6.1" fill="#0b9b0b"/>
<ellipse cx="2011.1" cy="780.5" rx="7.2" ry="6.1" fill="#0b9b0b"/>
<ellipse cx="2038.3" cy="776.4" rx="7.2" ry="6.1" fill="#0b9b0b"/>
<ellipse cx="2065.6" cy="771.8" rx="7.2" ry="6.1" fill="#0b9b0b"/>
<ellipse cx="2121.3" cy="760.8" rx="7.2" ry="6.1" fill="#0b9b0b"/>
<ellipse cx="2203.6" cy="748.3" rx="7.2" ry="6.1" fill="#0b9b0b"/>
<ellipse cx="2340.5" cy="743.0" rx="7.2" ry="6.1" fill="#0b9b0b"/>
<ellipse cx="2479.8" cy="754.5" rx="7.2" ry="6.1" fill="#0b9b0b"/>
<ellipse cx="2617.6" cy="769.6" rx="7.2" ry="6.1" fill="#0b9b0b"/>
<ellipse cx="2893.1" cy="815.6" rx="7.2" ry="6.1" fill="#0b9b0b"/>
<ellipse cx="3168.6" cy="859.4" rx="7.2" ry="6.1" fill="#0b9b0b"/>
<ellipse cx="1927.8" cy="787.4" rx="78.3" ry="31.3" fill="none" stroke="#ec1616" stroke-width="2"/>
<rect x="2339.5" y="963.5" width="638.1" height="44" rx="5" fill="#1b1b1a" fill-opacity="0.6" stroke="#23282c" stroke-width="1.5"/>
<ellipse cx="2364.6" cy="986.8" rx="7.4" ry="6.4" fill="#0b9b0b"/>
<text class="djv" x="2380.0" y="994.7" font-size="20" fill="#fff" textLength="587.0" lengthAdjust="spacingAndGlyphs" stroke="#fff" stroke-width="0.9">S490 USD SOFR (vs. FIXED RATE) Last Mid YTM 13:22:27</text>
<text class="djv" x="2400.7" y="1364.3" font-size="20" fill="#fff" textLength="76.1" lengthAdjust="spacingAndGlyphs" stroke="#fff" stroke-width="0.9">Tenor</text>
</svg></body></html>
